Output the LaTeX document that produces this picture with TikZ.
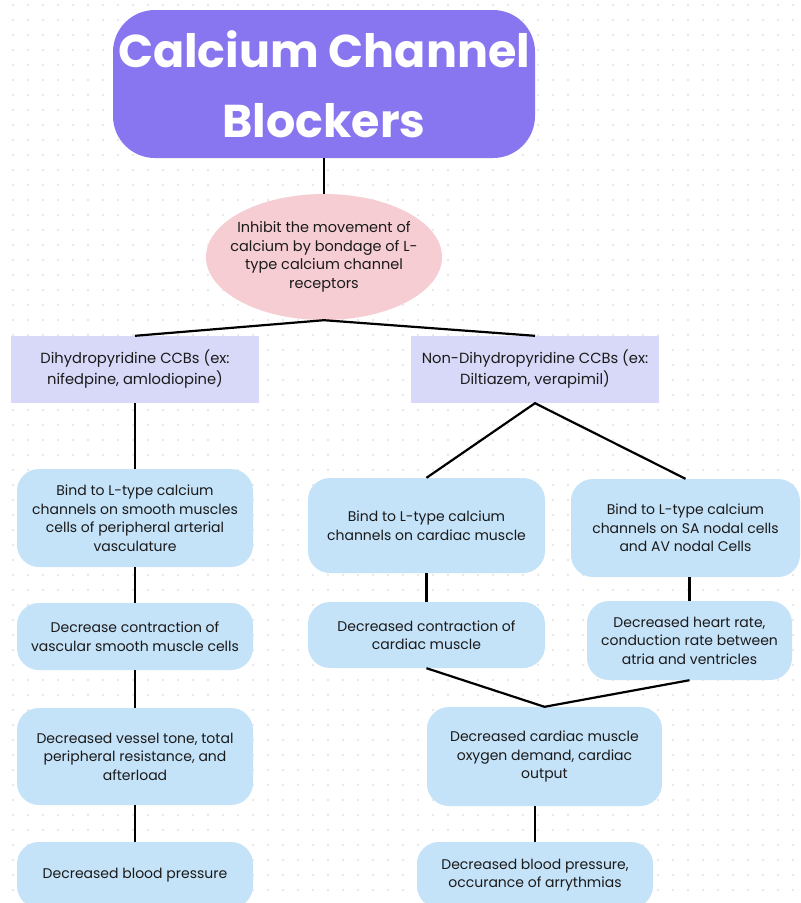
\documentclass[tikz,border=0pt]{standalone}
\usepackage{fontspec}
\setmainfont{Poppins}
\newfontfamily\titlefont{Poppins}
\usetikzlibrary{shapes.geometric}
\definecolor{titlepurple}{HTML}{8876F0}
\definecolor{ellpink}{HTML}{F5CDD3}
\definecolor{lavbox}{HTML}{D8D8F8}
\definecolor{bluebox}{HTML}{C4E2F8}
\definecolor{dotgray}{HTML}{E2E2E2}
\definecolor{txt}{HTML}{1A1A1A}
\tikzset{
  bodytext/.style={font=\fontsize{14}{18.5}\selectfont, text=txt, align=center},
  bluenode/.style={bodytext, fill=bluebox, rounded corners=22pt, inner sep=0pt},
  lavnode/.style={bodytext, fill=lavbox, inner sep=0pt, font=\fontsize{14.7}{21}\selectfont},
  conn/.style={draw=black, line width=2.2pt},
}
\begin{document}
\begin{tikzpicture}[x=1pt, y=-1pt]
\useasboundingbox (0,0) rectangle (801,903);
\fill[white] (0,0) rectangle (801,903);
% dotted background
\foreach \i in {0,...,53} {
  \foreach \j in {0,...,60} {
    \fill[dotgray] (13+15*\i, 5+15*\j) circle (1.1pt);
  }
}
% title
\node[fill=titlepurple, rounded corners=42pt, minimum width=422pt, minimum height=148pt, inner sep=0pt,
      text=white, align=center, font=\titlefont\bfseries\fontsize{46}{70}\selectfont]
  (title) at (324,84) {Calcium Channel\\Blockers};
% ellipse
\node[ellipse, fill=ellpink, minimum width=236pt, minimum height=126pt, inner sep=0pt]
  (ell) at (324,257) {};
\node[bodytext, font=\fontsize{14.5}{18.5}\selectfont, inner sep=0pt] (elltext) at (ell.center)
  {Inhibit the movement of\\calcium by bondage of L-\\type calcium channel\\receptors};
% lavender boxes
\node[lavnode, minimum width=248pt, minimum height=67pt] (L1) at (135,369.5)
  {Dihydropyridine CCBs (ex:\\nifedpine, amlodiopine)};
\node[lavnode, minimum width=248pt, minimum height=67pt] (L2) at (535,369.5)
  {Non-Dihydropyridine CCBs (ex:\\Diltiazem, verapimil)};
% blue boxes
\node[bluenode, minimum width=236pt, minimum height=98pt] (B1) at (135,518)
  {Bind to L-type calcium\\channels on smooth muscles\\cells of peripheral arterial\\vasculature};
\node[bluenode, minimum width=237pt, minimum height=95pt] (B2) at (426.5,525.5)
  {Bind to L-type calcium\\channels on cardiac muscle};
\node[bluenode, minimum width=229pt, minimum height=98pt] (B3) at (685.5,528)
  {Bind to L-type calcium\\channels on SA nodal cells\\and AV nodal Cells};
\node[bluenode, minimum width=236pt, minimum height=67pt] (B4) at (135,636.5)
  {Decrease contraction of\\vascular smooth muscle cells};
\node[bluenode, minimum width=237pt, minimum height=66pt] (B5) at (426.5,635)
  {Decreased contraction of\\cardiac muscle};
\node[bluenode, minimum width=205pt, minimum height=79pt] (B6) at (689.5,640.5)
  {Decreased heart rate,\\conduction rate between\\atria and ventricles};
\node[bluenode, minimum width=236pt, minimum height=97pt] (B7) at (135,756.5)
  {Decreased vessel tone, total\\peripheral resistance, and\\afterload};
\node[bluenode, minimum width=235pt, minimum height=99pt] (B8) at (544.5,756.5)
  {Decreased cardiac muscle\\oxygen demand, cardiac\\output};
\node[bluenode, minimum width=236pt, minimum height=66pt] (B9) at (135,875)
  {Decreased blood pressure};
\node[bluenode, minimum width=236pt, minimum height=66pt] (B10) at (535,875)
  {Decreased blood pressure,\\occurance of arrythmias};
% connectors
\draw[conn] (title.south) -- (ell.north);
\draw[conn] (L1.north) -- (ell.south) -- (L2.north);
\draw[conn] (L1.south) -- (B1.north);
\draw[conn] (B2.north) -- (L2.south) -- (B3.north);
\draw[conn] (B1.south) -- (B4.north);
\draw[conn] (B4.south) -- (B7.north);
\draw[conn] (B7.south) -- (B9.north);
\draw[conn] (B2.south) -- (B5.north);
\draw[conn] (B3.south -| B6.north) -- (B6.north);
\draw[conn] (B5.south) -- (B8.north) -- (B6.south);
\draw[conn] (B10.north |- B8.south) -- (B10.north);
\end{tikzpicture}
\end{document}
